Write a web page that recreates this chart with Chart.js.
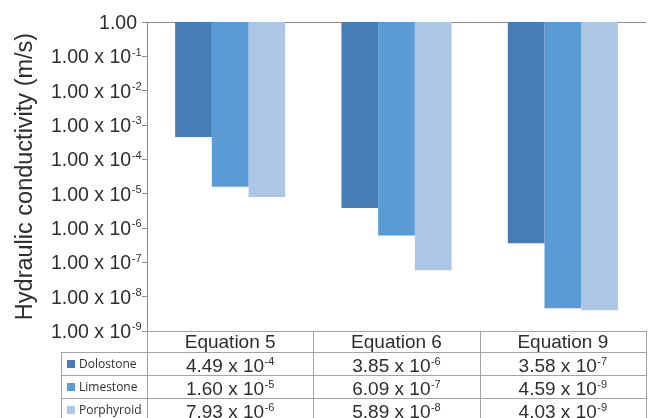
<!DOCTYPE html>
<html>
<head>
<meta charset="utf-8">
<script src="https://cdn.jsdelivr.net/npm/chart.js@4.4.1/dist/chart.umd.min.js"></script>
<style>
  html, body { margin: 0; padding: 0; background: #fff; }
  #wrap { width: 649px; height: 418px; position: relative; }
</style>
</head>
<body>
<div id="wrap"><canvas id="chart"></canvas></div>
<script>
const categories = ["Equation 5", "Equation 6", "Equation 9"]
const seriesNames = ["Dolostone", "Limestone", "Porphyroid"]
const dolostone = [4.49e-4, 3.85e-6, 3.58e-7]
const limestone = [1.60e-5, 6.09e-7, 4.59e-9]
const porphyroid = [7.93e-6, 5.89e-8, 4.03e-9]
const tickValues = [1, 1e-1, 1e-2, 1e-3, 1e-4, 1e-5, 1e-6, 1e-7, 1e-8, 1e-9]
const seriesColors = ['rgb(70, 125, 181)', 'rgb(91, 155, 213)', 'rgb(174, 198, 230)']

const textColor = '#2e2e2e'
const lineColor = '#8c8c8c'
const tableLine = '#a3a3a3'
const FONT = '"Liberation Sans", Arial, sans-serif'
const allSeries = [dolostone, limestone, porphyroid]

// draws "m x 10" with a raised exponent, like Excel's scientific labels
function drawPow(ctx, mant, exp, x, baseline, align, size, supSize) {
    const base = exp === 0 ? mant : mant + ' x 10'
    const expText = exp === 0 ? '' : String(exp)
    ctx.font = size + 'px ' + FONT
    const wb = ctx.measureText(base).width
    ctx.font = supSize + 'px ' + FONT
    const ws = expText ? ctx.measureText(expText).width + 0.5 : 0
    const total = wb + ws
    let start = align === 'right' ? x - total : x - total / 2
    ctx.textAlign = 'left'
    ctx.textBaseline = 'alphabetic'
    ctx.font = size + 'px ' + FONT
    ctx.fillText(base, start, baseline)
    if (expText) {
        ctx.font = supSize + 'px ' + FONT
        ctx.fillText(expText, start + wb + 0.5, baseline - size * 0.39)
    }
}

const yLabels = {
    id: 'yLabels',
    afterDraw(chart) {
        const { ctx } = chart
        const y = chart.scales.y
        ctx.save()
        ctx.fillStyle = textColor
        tickValues.forEach(v => {
            const py = y.getPixelForValue(v)
            const e = Math.round(Math.log10(v))
            const right = y.right - (e === 0 ? 10 : 5.5)
            drawPow(ctx, '1.00', e, right, py + 7, 'right', 19.5, 11)
        })
        ctx.restore()
    }
}

// data table under the plot (Excel style, with legend keys)
const dataTable = {
    id: 'dataTable',
    afterDraw(chart) {
        const { ctx, chartArea } = chart
        const left = chartArea.left
        const right = chartArea.right
        const colW = (right - left) / categories.length
        const keyLeft = 61
        const rows = [chartArea.bottom, chartArea.bottom + 21, chartArea.bottom + 44, chartArea.bottom + 67, chartArea.bottom + 90]
        ctx.save()
        ctx.strokeStyle = tableLine
        ctx.lineWidth = 1
        ctx.beginPath()
        ctx.moveTo(left, rows[0] + 0.5); ctx.lineTo(right, rows[0] + 0.5)
        for (let r = 1; r < rows.length; r++) {
            ctx.moveTo(keyLeft, rows[r] + 0.5); ctx.lineTo(right, rows[r] + 0.5)
        }
        ctx.moveTo(keyLeft + 0.5, rows[1]); ctx.lineTo(keyLeft + 0.5, rows[4])
        for (let c = 0; c <= categories.length; c++) {
            const x = Math.round(left + c * colW) + 0.5
            ctx.moveTo(x, rows[0]); ctx.lineTo(x, rows[4])
        }
        ctx.stroke()

        ctx.fillStyle = textColor
        ctx.textAlign = 'center'
        ctx.textBaseline = 'alphabetic'
        ctx.font = '19px ' + FONT
        categories.forEach((c, i) => {
            ctx.fillText(c, left + colW * (i + 0.5), rows[1] - 4)
        })
        allSeries.forEach((s, r) => {
            s.forEach((v, i) => {
                const [m, e] = v.toExponential(2).split('e')
                drawPow(ctx, m, parseInt(e, 10), left + colW * (i + 0.5), rows[r + 2] - 3, 'center', 19, 11)
            })
        })
        ctx.textAlign = 'left'
        ctx.textBaseline = 'middle'
        ctx.font = '12px "Open Sans"'
        seriesNames.forEach((n, r) => {
            const cy = (rows[r + 1] + rows[r + 2]) / 2
            ctx.fillStyle = seriesColors[r]
            ctx.fillRect(keyLeft + 6, Math.round(cy - 4), 8, 8)
            ctx.fillStyle = textColor
            ctx.fillText(n, keyLeft + 18, cy + 1)
        })
        ctx.restore()
    }
}

new Chart(document.getElementById('chart'), {
    type: 'bar',
    data: {
        labels: categories,
        datasets: seriesNames.map((name, i) => ({
            label: name,
            data: allSeries[i].map(v => [v, 1]),
            backgroundColor: seriesColors[i],
            borderWidth: 0
        }))
    },
    options: {
        responsive: true,
        maintainAspectRatio: false,
        animation: false,
        layout: { padding: { top: 22, right: 3, bottom: 87, left: 0 } },
        datasets: { bar: { categoryPercentage: 0.662, barPercentage: 1.0 } },
        plugins: {
            legend: { display: false },
            tooltip: { enabled: false }
        },
        scales: {
            x: { display: false },
            y: {
                type: 'logarithmic',
                min: 1e-9,
                max: 1,
                afterFit(scale) { scale.width = 147 },
                afterBuildTicks(scale) { scale.ticks = tickValues.map(v => ({ value: v })) },
                border: { display: true, color: lineColor, width: 1 },
                grid: {
                    color: c => (c.tick && c.tick.value === 1 ? lineColor : 'rgba(0,0,0,0)'),
                    tickColor: lineColor,
                    tickLength: 5
                },
                ticks: { display: false, autoSkip: false },
                title: {
                    display: true,
                    text: 'Hydraulic conductivity (m/s)',
                    color: textColor,
                    font: { family: 'Liberation Sans', size: 23.5 },
                    padding: { top: 11, bottom: 0 }
                }
            }
        }
    },
    plugins: [yLabels, dataTable]
})
</script>
</body>
</html>
